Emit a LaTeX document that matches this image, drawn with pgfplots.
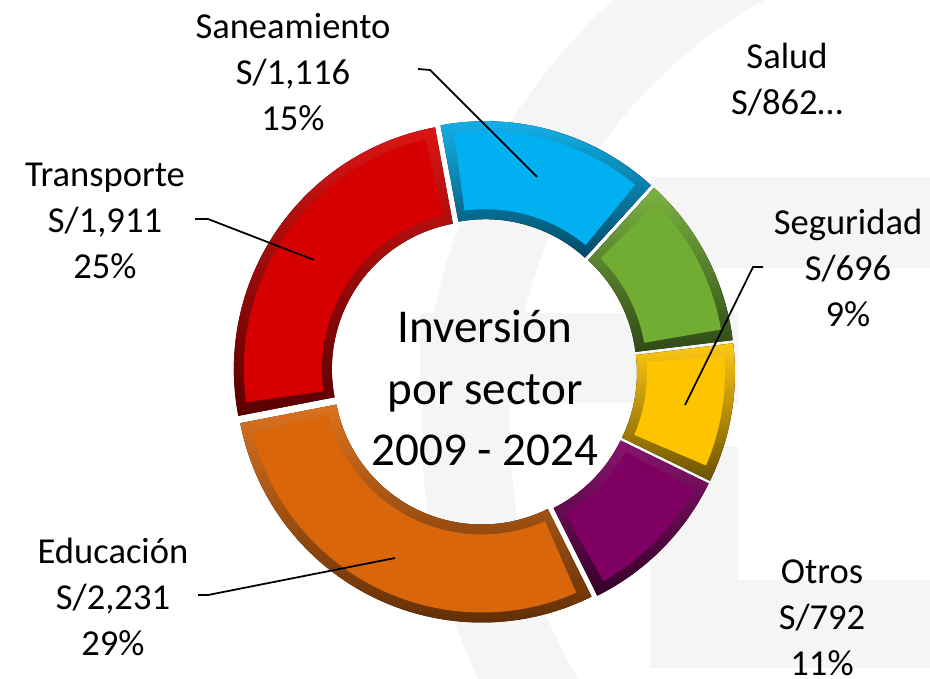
\documentclass[border=0pt]{standalone}
\usepackage{fontspec}
\setmainfont{Carlito}
\usepackage{pgfplots}
\usepackage{pgfplotstable}
\pgfplotsset{compat=1.18}

\definecolor{cSan}{HTML}{00B0F0}
\definecolor{cSal}{HTML}{70AD32}
\definecolor{cSeg}{HTML}{FFC400}
\definecolor{cOtr}{HTML}{7F0062}
\definecolor{cEdu}{HTML}{D9660B}
\definecolor{cTra}{HTML}{D70000}
\definecolor{marca}{HTML}{F5F5F5}

% inversion por sector, en millones de soles
\pgfplotstableread{
sector      value color
Saneamiento 1116  cSan
Salud       862   cSal
Seguridad   696   cSeg
Otros       792   cOtr
Educacion   2231  cEdu
Transporte  1911  cTra
}\sectores

% one ring piece: options, centre x, centre y, angle from, angle to, outer r, inner r
\newcommand\piece[7]{%
  \fill[#1] ({#2+#6*cos(#4)},{#3+#6*sin(#4)}) arc[start angle=#4,end angle=#5,radius=#6]
    -- ({#2+#7*cos(#5)},{#3+#7*sin(#5)}) arc[start angle=#5,end angle=#4,radius=#7] -- cycle;}

\def\Ro{2.46}\def\Ri{1.48}
\def\cx{4.84}\def\cy{3.06}
\def\ex{0.05}\def\bev{0.10}

\pgfplotstablegetrowsof{\sectores}
\pgfmathtruncatemacro\nlast{\pgfplotsretval-1}
\def\total{0}
\pgfplotsforeachungrouped \i in {0,...,\nlast}{%
  \pgfplotstablegetelem{\i}{value}\of\sectores
  \pgfmathsetmacro\total{\total+\pgfplotsretval}%
}
\gdef\donutcmds{}
\def\cur{100.5}
\pgfplotsforeachungrouped \i in {0,...,\nlast}{%
  \pgfplotstablegetelem{\i}{value}\of\sectores
  \pgfmathsetmacro\sw{360*(\pgfplotsretval/\total)}%
  \pgfmathsetmacro\angA{\cur}%
  \pgfmathsetmacro\angB{\cur-\sw}%
  \pgfmathsetmacro\angM{\cur-\sw/2}%
  \pgfmathsetmacro\pcx{\cx+\ex*cos(\angM)}%
  \pgfmathsetmacro\pcy{\cy+\ex*sin(\angM)}%
  \pgfmathsetmacro\dang{deg(\bev/((\Ro+\Ri)/2))}%
  \pgfmathsetmacro\angAi{\angA-\dang}%
  \pgfmathsetmacro\angBi{\angB+\dang}%
  \pgfmathsetmacro\Roi{\Ro-\bev}%
  \pgfmathsetmacro\Rii{\Ri+\bev}%
  \pgfplotstablegetelem{\i}{color}\of\sectores
  \xdef\donutcmds{\donutcmds
    \noexpand\piece{top color=\pgfplotsretval!92!white,bottom color=\pgfplotsretval!42!black}{\pcx}{\pcy}{\angA}{\angB}{\Ro}{\Ri}%
    \noexpand\piece{fill=\pgfplotsretval}{\pcx}{\pcy}{\angAi}{\angBi}{\Roi}{\Rii}}%
  \let\cur\angB
}

\begin{document}
\begin{tikzpicture}
\begin{axis}[
  x=1cm, y=1cm,
  xmin=0, xmax=9.3, ymin=0, ymax=6.78,
  enlargelimits=false,
  hide axis, clip=false,
]
\coordinate (bbA) at (axis cs:0,0);
\coordinate (bbB) at (axis cs:9.3,6.78);

% faded logo behind the chart
\fill[marca, even odd rule] (10,2.48) circle[radius=5.78] (10,2.48) circle[radius=4.90];
\fill[marca] (6.5,4.10) rectangle (9.4,5.01);
\fill[marca] (4.2,2.75) rectangle (7.38,3.65);
\fill[marca] (6.5,0.98) rectangle (7.38,2.32);
\fill[marca] (6.5,0.10) rectangle (9.4,0.98);

\donutcmds

\node[align=center, font=\fontsize{13.4}{17.4}\selectfont] at (4.85,2.90)
  {Inversión\\por sector\\2009 - 2024};

\begin{scope}[font=\fontsize{10.4}{13.1}\selectfont, align=center]
\node at (2.93,6.06) {Saneamiento\\S/1,116\\15\%};
\node at (7.87,5.98) {Salud\\S/862…};
\node at (8.48,4.10) {Seguridad\\S/696\\9\%};
\node at (8.22,0.60) {Otros\\S/792\\11\%};
\node at (1.05,4.57) {Transporte\\S/1,911\\25\%};
\node at (1.13,0.81) {Educación\\S/2,231\\29\%};
\end{scope}

\begin{scope}[line width=0.5pt, black]
\draw (4.18,6.09) -- (4.30,6.08) -- (5.37,5.01);
\draw (1.95,4.59) -- (2.08,4.59) -- (3.14,4.18);
\draw (1.98,0.83) -- (2.08,0.83) -- (3.95,1.20);
\draw (7.63,4.11) -- (7.53,4.11) -- (6.85,2.73);
\end{scope}
\end{axis}
\pgfresetboundingbox
\path[use as bounding box] (bbA) rectangle (bbB);
\end{tikzpicture}
\end{document}
